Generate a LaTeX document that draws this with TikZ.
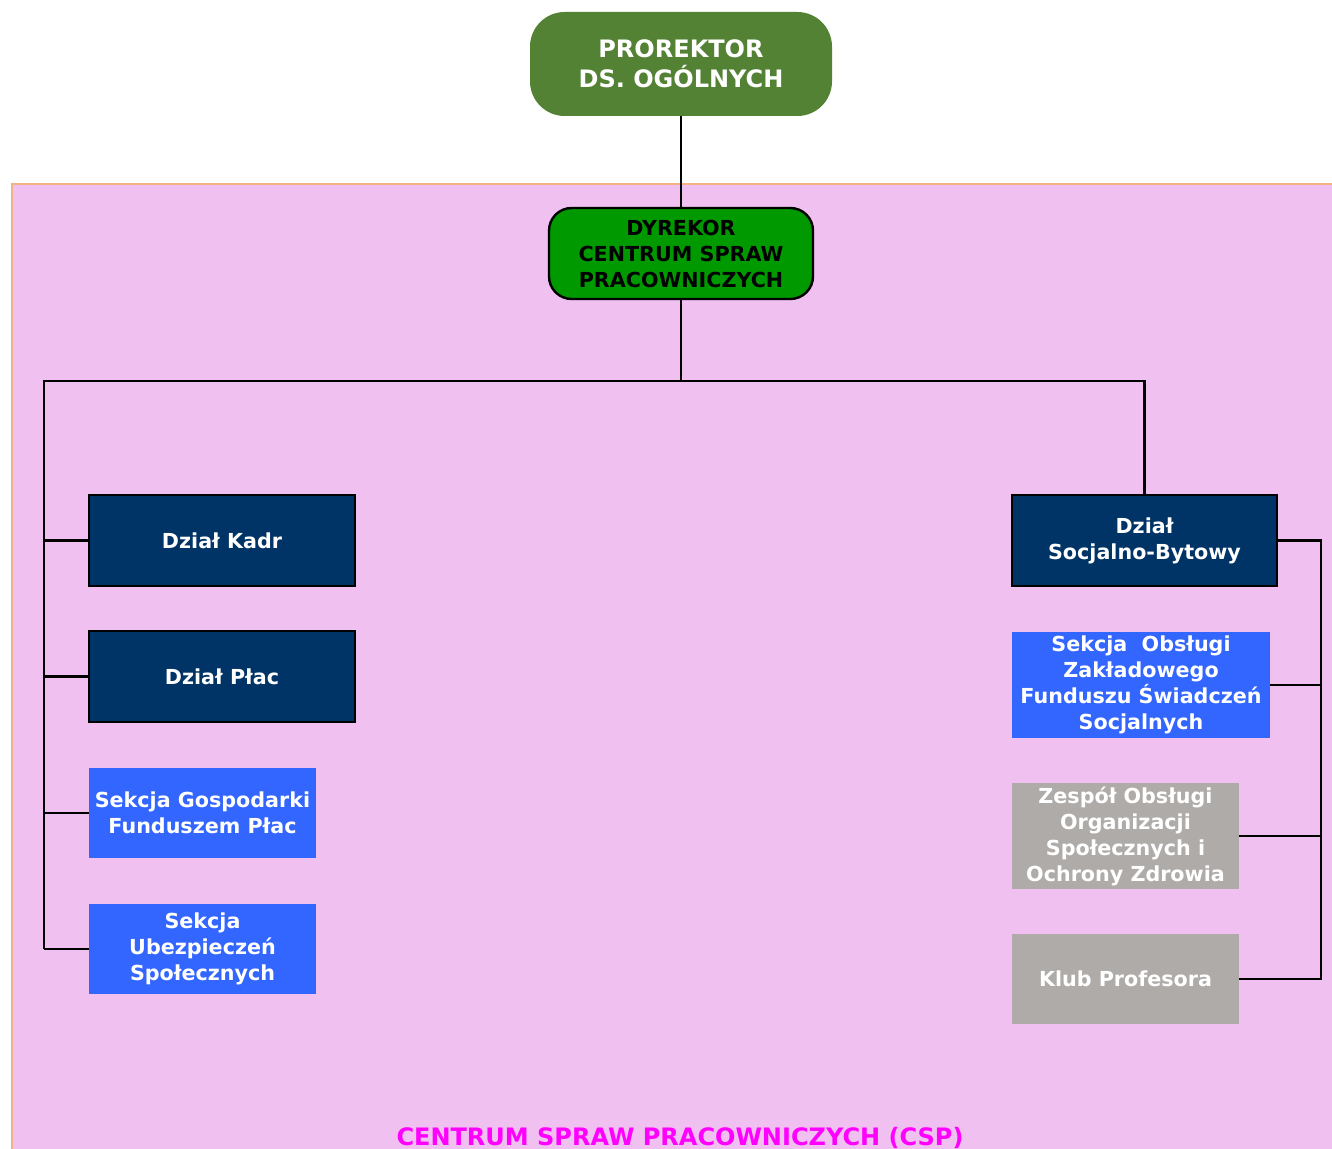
\documentclass[tikz,border=0pt]{standalone}
\usepackage{fontspec}
\setmainfont{DejaVu Sans}
\definecolor{pinkbg}{RGB}{240,192,240}
\definecolor{orangeb}{RGB}{244,177,131}
\definecolor{olive}{RGB}{84,130,53}
\definecolor{dgreen}{RGB}{0,153,0}
\definecolor{navy}{RGB}{0,51,102}
\definecolor{bblue}{RGB}{51,102,255}
\definecolor{ggray}{RGB}{175,171,169}
\definecolor{mag}{RGB}{255,0,255}
\begin{document}
\begin{tikzpicture}[x=0.75pt,y=-0.75pt,
  txt/.style={font=\bfseries\fontsize{15.5}{19.5}\selectfont, align=center, inner sep=0pt},
  navybox/.style={txt, fill=navy, draw=black, line width=2pt, text=white, minimum width=199.5pt, minimum height=68.25pt},
  bluebox/.style={txt, fill=bblue, text=white},
  graybox/.style={txt, fill=ggray, text=white},
  conn/.style={line width=1.8pt, black, line join=miter}]
\useasboundingbox (0,0) rectangle (1332,1149);
\clip (0,0) rectangle (1332,1149);
\fill[white] (0,0) rectangle (1332,1149);
\fill[pinkbg] (12,184) rectangle (1340,1160);
\draw[orangeb, line width=1.5pt] (12,1160) -- (12,184) -- (1340,184);

\node[txt, fill=olive, text=white, rounded corners=26pt, minimum width=226.5pt, minimum height=78pt,
  font=\bfseries\fontsize{18}{22.5}\selectfont] (pro) at (681,64) {PROREKTOR\\DS. OGÓLNYCH};
\node[txt, fill=dgreen, draw=black, line width=1.8pt, text=black, rounded corners=17pt, minimum width=198pt, minimum height=68.25pt] (dyr) at (681,253.5) {DYREKOR\\CENTRUM SPRAW\\PRACOWNICZYCH};

\node[navybox] (kadr) at (222,540.5) {Dział Kadr};
\node[navybox] (plac) at (222,676.5) {Dział Płac};
\node[bluebox, minimum width=170.25pt, minimum height=67.5pt] (gosp) at (202.5,813) {Sekcja Gospodarki\\Funduszem Płac};
\node[bluebox, minimum width=170.25pt, minimum height=67.5pt] (ubez) at (202.5,949) {Sekcja\\Ubezpieczeń\\Społecznych};

\node[navybox, minimum width=198.75pt] (socj) at (1144.5,540.5) {Dział\\Socjalno-Bytowy};
\node[bluebox, minimum width=193.5pt, minimum height=79.5pt] (obsl) at (1141,685) {Sekcja\ \ Obsługi\\Zakładowego\\Funduszu Świadczeń\\Socjalnych};
\node[graybox, minimum width=170.25pt, minimum height=79.5pt] (zesp) at (1125.5,836) {Zespół Obsługi\\Organizacji\\Społecznych i\\Ochrony Zdrowia};
\node[graybox, minimum width=170.25pt, minimum height=67.5pt] (klub) at (1125.5,979) {Klub Profesora};

\node[font=\bfseries\fontsize{18}{22}\selectfont, text=mag, inner sep=0pt] (csp) at (680,1138) {CENTRUM SPRAW PRACOWNICZYCH (CSP)};

\coordinate (busY) at (0,381);
\coordinate (busL) at (44,381);
\coordinate (busR) at (1144.5,381);
\coordinate (rbus) at (1321,0);

\draw[conn] (pro.south) -- (dyr.north);
\draw[conn] (dyr.south) -- (dyr.south |- busY);
\draw[conn] (busL |- ubez.west) -- (busL) -- (busR) -- (socj.north);
\draw[conn] (busL |- ubez.west) -- (ubez.west);
\draw[conn] (busL |- kadr.west) -- (kadr.west);
\draw[conn] (busL |- plac.west) -- (plac.west);
\draw[conn] (busL |- gosp.west) -- (gosp.west);
\draw[conn] (socj.east) -- (rbus |- socj.east) -- (rbus |- klub.east) -- (klub.east);
\draw[conn] (obsl.east) -- (rbus |- obsl.east);
\draw[conn] (zesp.east) -- (rbus |- zesp.east);
\end{tikzpicture}
\end{document}
